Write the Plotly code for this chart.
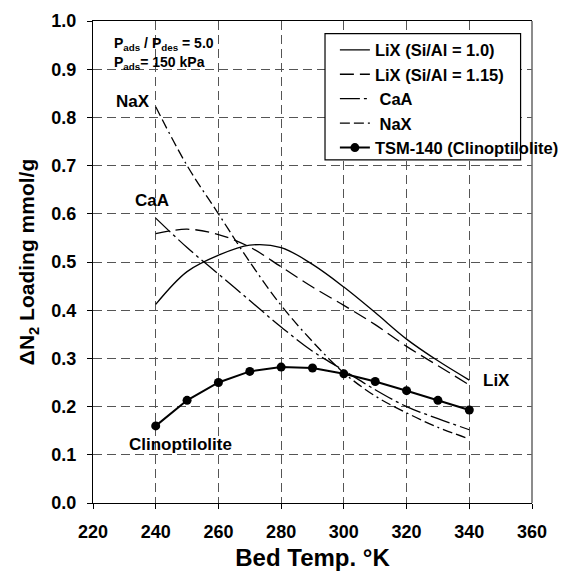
import plotly.graph_objects as go

temps = [240, 250, 260, 270, 280, 290, 300, 310, 320, 330, 340]
lix_10 = [0.412, 0.48, 0.514, 0.535, 0.530, 0.495, 0.448, 0.395, 0.34, 0.295, 0.255]
lix_115 = [0.559, 0.568, 0.557, 0.531, 0.49, 0.448, 0.41, 0.37, 0.325, 0.285, 0.245]
caa = [0.591, 0.53, 0.475, 0.42, 0.365, 0.315, 0.275, 0.235, 0.2, 0.175, 0.152]
nax = [0.822, 0.70, 0.60, 0.50, 0.41, 0.335, 0.27, 0.222, 0.187, 0.157, 0.133]
clino = [0.16, 0.213, 0.25, 0.273, 0.282, 0.28, 0.268, 0.252, 0.233, 0.213, 0.193]

series_names = ["LiX (Si/Al = 1.0)", "LiX (Si/Al = 1.15)", "\u00a0CaA", "\u00a0NaX",
                "TSM-140 (Clinoptilolite)"]

FONT = "Arial, Liberation Sans, sans-serif"

fig = go.Figure()
fig.add_trace(go.Scatter(x=temps, y=lix_10, mode="lines", name=series_names[0],
                         line=dict(color="black", width=1.3, shape="spline")))
fig.add_trace(go.Scatter(x=temps, y=lix_115, mode="lines", name=series_names[1],
                         line=dict(color="black", width=1.3, shape="spline",
                                   dash="14px,6px")))
fig.add_trace(go.Scatter(x=temps, y=caa, mode="lines", name=series_names[2],
                         line=dict(color="black", width=1.3, shape="spline",
                                   dash="20px,4px,3px,4px")))
fig.add_trace(go.Scatter(x=temps, y=nax, mode="lines", name=series_names[3],
                         line=dict(color="black", width=1.3, shape="spline",
                                   dash="10px,4px,10px,4px,2px,4px")))
fig.add_trace(go.Scatter(x=temps, y=clino, mode="lines+markers", name=series_names[4],
                         line=dict(color="black", width=2),
                         marker=dict(color="black", size=9)))

lbl = dict(font=dict(family=FONT, size=17, color="black", weight="bold"),
           showarrow=False)
small = dict(font=dict(family=FONT, size=14, color="black", weight="bold"),
             showarrow=False, xanchor="left")
fig.add_annotation(x=226, y=0.953, text="P<sub>ads</sub> / P<sub>des</sub> = 5.0", **small)
fig.add_annotation(x=226, y=0.912, text="P<sub>ads</sub>= 150 kPa", **small)
fig.add_annotation(x=232.9, y=0.832, text="NaX", **lbl)
fig.add_annotation(x=238.9, y=0.628, text="CaA", **lbl)
fig.add_annotation(x=348.8, y=0.255, text="LiX", **lbl)
fig.add_annotation(x=247.9, y=0.122, text="Clinoptilolite", **lbl)

axis_common = dict(
    showline=True, linecolor="black", linewidth=1.2,
    ticks="outside", ticklen=5, tickcolor="black", ticklabelstandoff=7,
    showgrid=True, gridcolor="#555555", gridwidth=1, griddash="9px,5px",
    zeroline=False,
    tickfont=dict(family=FONT, size=18, color="black", weight="bold"),
)
fig.update_xaxes(range=[220, 360], dtick=20, tick0=220, mirror=True,
                 title=dict(text="Bed Temp. °K", standoff=8,
                            font=dict(family=FONT, size=24, color="black",
                                      weight="bold")),
                 **axis_common)
fig.update_yaxes(range=[0, 1.0], dtick=0.1, tickformat=".1f",
                 title=dict(text="ΔN<sub>2</sub> Loading mmol/g", standoff=10,
                            font=dict(family=FONT, size=21, color="black",
                                      weight="bold")),
                 **axis_common)

# right frame line (grey) and the legend box
fig.add_shape(type="line", xref="paper", yref="paper", x0=1, x1=1, y0=0, y1=1,
              line=dict(color="#666666", width=1.5))
fig.add_shape(type="rect", xref="paper", yref="paper", x0=0.5285, x1=0.974,
              y0=0.712, y1=0.974, fillcolor="white",
              line=dict(color="black", width=1.2), layer="above")

fig.update_layout(
    width=559, height=565,
    margin=dict(l=85, r=35, t=13, b=70, autoexpand=False),
    plot_bgcolor="white", paper_bgcolor="white",
    legend=dict(x=0.551, y=0.976, xanchor="left", yanchor="top",
                bgcolor="rgba(0,0,0,0)", borderwidth=0,
                font=dict(family=FONT, size=16.5, color="black", weight="bold"),
                tracegroupgap=0, itemwidth=30),
    showlegend=True,
)

fig.write_html("out.html")
